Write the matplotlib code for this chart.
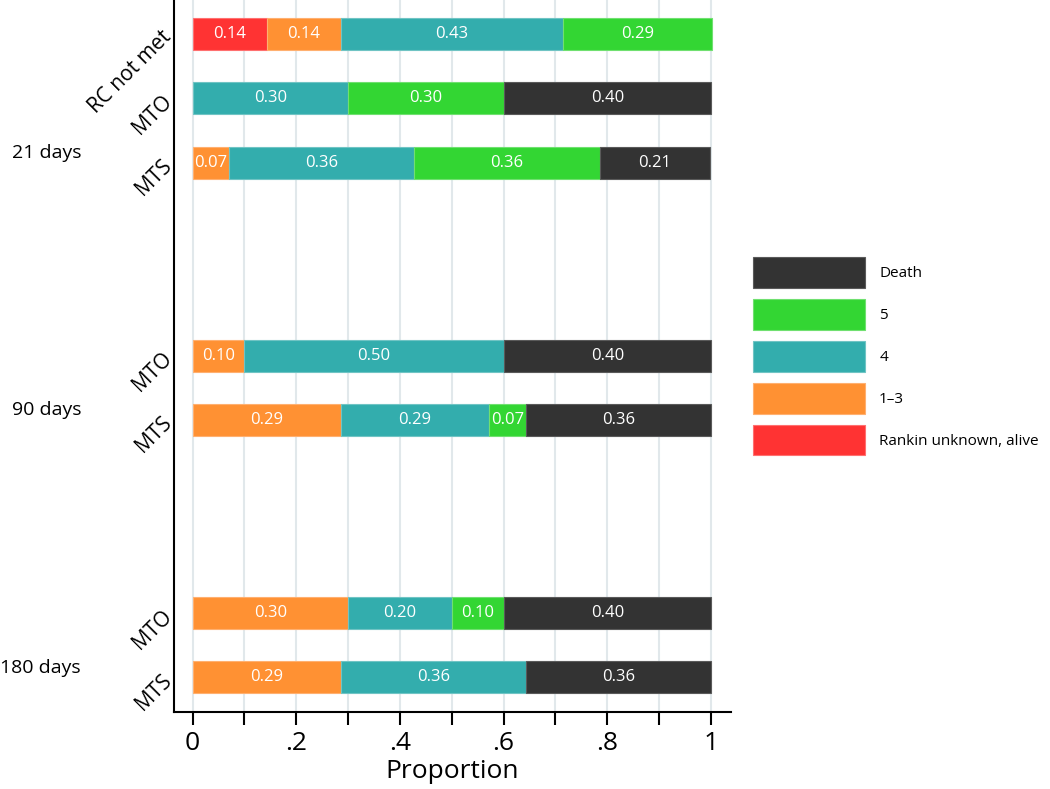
import matplotlib
matplotlib.use("Agg")
import matplotlib.pyplot as plt
import matplotlib.transforms as mtransforms
from matplotlib.patches import Patch

plt.rcParams['font.family'] = ['Open Sans', 'DejaVu Sans']

# rows from top to bottom
row_labels = ["RC not met", "MTO", "MTS", "MTO", "MTS", "MTO", "MTS"]
row_pos = [0, 1, 2, 5, 6, 9, 10]
groups = ["21 days", "90 days", "180 days"]
group_pos = [1.85, 5.85, 9.85]

categories = ["Rankin unknown, alive", "1\u20133", "4", "5", "Death"]
colors = ["#FF3333", "#FF9133", "#33ADAD", "#33D633", "#333333"]
edges = ["#FF7070", "#FFB070", "#70C4C4", "#70E070", "#5A5A5A"]

unknown = [0.143, 0.0, 0.0, 0.0, 0.0, 0.0, 0.0]
mrs_1_3 = [0.143, 0.0, 0.071, 0.10, 0.286, 0.30, 0.286]
mrs_4 = [0.429, 0.30, 0.357, 0.50, 0.286, 0.20, 0.357]
mrs_5 = [0.286, 0.30, 0.357, 0.0, 0.071, 0.10, 0.0]
death = [0.0, 0.40, 0.214, 0.40, 0.357, 0.40, 0.357]

series = [unknown, mrs_1_3, mrs_4, mrs_5, death]

fig = plt.figure(figsize=(10.5, 7.89), dpi=100)
ax = fig.add_axes([174 / 1050, 77 / 789, 557 / 1050, 712 / 789])

ax.set_xticks([i / 10 for i in range(11)])
ax.set_xticklabels(["0", "", ".2", "", ".4", "", ".6", "", ".8", "", "1"])
ax.grid(axis="x", color="#E1E8EB", linewidth=1.5, zorder=0)
ax.set_axisbelow(True)

left = [0.0] * len(row_pos)
for vals, col, ec in zip(series, colors, edges):
    for y, v, l in zip(row_pos, vals, left):
        if v <= 0:
            continue
        ax.barh(y, v, left=l, height=0.5, color=col, edgecolor=ec,
                linewidth=0.8, zorder=2)
        ax.text(l + v / 2, y, f"{v:.2f}", color="white", ha="center",
                va="center", fontsize=12, zorder=3)
    left = [a + b for a, b in zip(left, vals)]

ax.set_xlim(-0.0357, 1.0386)
ax.set_ylim(10.54, -0.53)

ax.set_yticks(row_pos)
ax.set_yticklabels(row_labels, rotation=45, ha="right", va="center",
                   rotation_mode="anchor", fontsize=15)
ax.tick_params(axis="y", length=0, pad=4)
ax.tick_params(axis="x", length=9, width=1.5, labelsize=19, pad=5)

for s in ["top", "right"]:
    ax.spines[s].set_visible(False)
for s in ["left", "bottom"]:
    ax.spines[s].set_linewidth(1.5)

ax.set_xlabel("Proportion", fontsize=19, labelpad=2)

trans = mtransforms.blended_transform_factory(fig.transFigure, ax.transData)
for g, y in zip(groups, group_pos):
    ax.text(81 / 1050, y, g, transform=trans, ha="right", va="center",
            fontsize=14, clip_on=False)

handles = [Patch(facecolor=c, edgecolor=e, linewidth=0.8)
           for c, e in zip(colors, edges)][::-1]
ax.legend(handles, categories[::-1], loc="upper left",
          bbox_to_anchor=(747 / 1050, 1 - 251 / 789),
          bbox_transform=fig.transFigure, frameon=False, fontsize=11,
          handlelength=7.3, handleheight=2.73, labelspacing=0.72,
          handletextpad=0.95, borderaxespad=0)

fig.savefig("out.png", dpi=100)
